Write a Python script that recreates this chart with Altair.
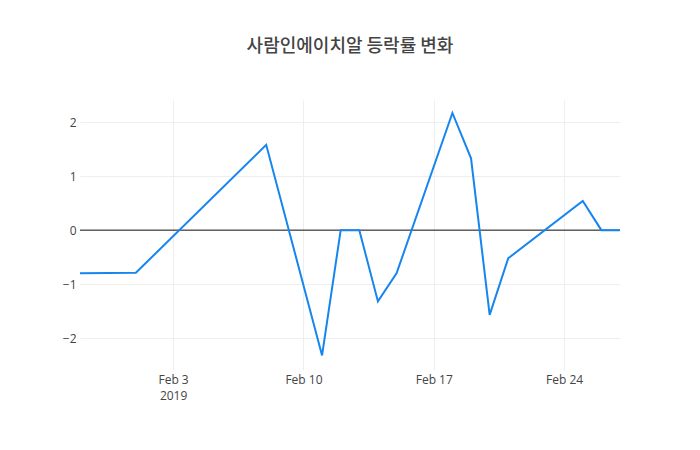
import altair as alt
import pandas as pd

dates = ["2019-01-29", "2019-02-01", "2019-02-08", "2019-02-11", "2019-02-12",
         "2019-02-13", "2019-02-14", "2019-02-15", "2019-02-18", "2019-02-19",
         "2019-02-20", "2019-02-21", "2019-02-25", "2019-02-26", "2019-02-27"]
changes = [-0.80, -0.79, 1.58, -2.32, 0.0,
           0.0, -1.32, -0.80, 2.17, 1.33,
           -1.57, -0.52, 0.54, 0.0, 0.0]
y_ticks = [-2, -1, 0, 1, 2]
title_text = "사람인에이치알 등락률 변화"

df = pd.DataFrame({"date": dates, "change": changes})
zero_df = pd.DataFrame({"zero": [0]})

FONT = "Open Sans"
x_domain = [alt.DateTime(year=2019, month=1, date=29, utc=True),
            alt.DateTime(year=2019, month=2, date=27, utc=True)]
x_ticks = [alt.DateTime(year=2019, month=2, date=d, utc=True) for d in [3, 10, 17, 24]]

x_enc = alt.X(
    "date:T",
    scale=alt.Scale(type="utc", domain=x_domain, nice=False),
    axis=alt.Axis(
        values=x_ticks,
        labelExpr="utcdate(datum.value) == 3 ? [utcFormat(datum.value, '%b %-d'), '2019'] : utcFormat(datum.value, '%b %-d')",
        title=None, grid=True, gridColor="#eeeeee", domain=False, ticks=False,
        labelFont=FONT, labelFontSize=12, labelColor="#444444", labelPadding=4,
        labelLineHeight=16,
    ),
)
y_scale = alt.Scale(domain=[-2.59, 2.41], nice=False, zero=False)

line = alt.Chart(df).mark_line(color="#1785f0", strokeWidth=2).encode(
    x=x_enc,
    y=alt.Y("change:Q", scale=y_scale,
            axis=alt.Axis(values=y_ticks, title=None, grid=True, gridColor="#eeeeee",
                          domain=False, ticks=False, labelFont=FONT, labelFontSize=12,
                          labelColor="#444444", labelPadding=4,
                          labelExpr="replace(format(datum.value, 'd'), '-', '−')")),
)

zero = alt.Chart(zero_df).mark_rule(color="#111111", strokeWidth=1).encode(
    y=alt.Y("zero:Q", scale=y_scale)
)

chart = alt.layer(zero, line).properties(
    width=540, height=270,
    background="white",
    autosize=alt.AutoSizeParams(type="none"),
    padding={"left": 72, "top": 92, "right": 72, "bottom": 72},
    title=alt.Title(title_text, font="Noto Sans CJK KR", fontSize=18, fontWeight=500,
                    color="#444444", anchor="middle", offset=44),
).configure_view(strokeWidth=0, stroke="transparent")

chart.save("out.html", embed_options={"renderer": "svg", "actions": False})
